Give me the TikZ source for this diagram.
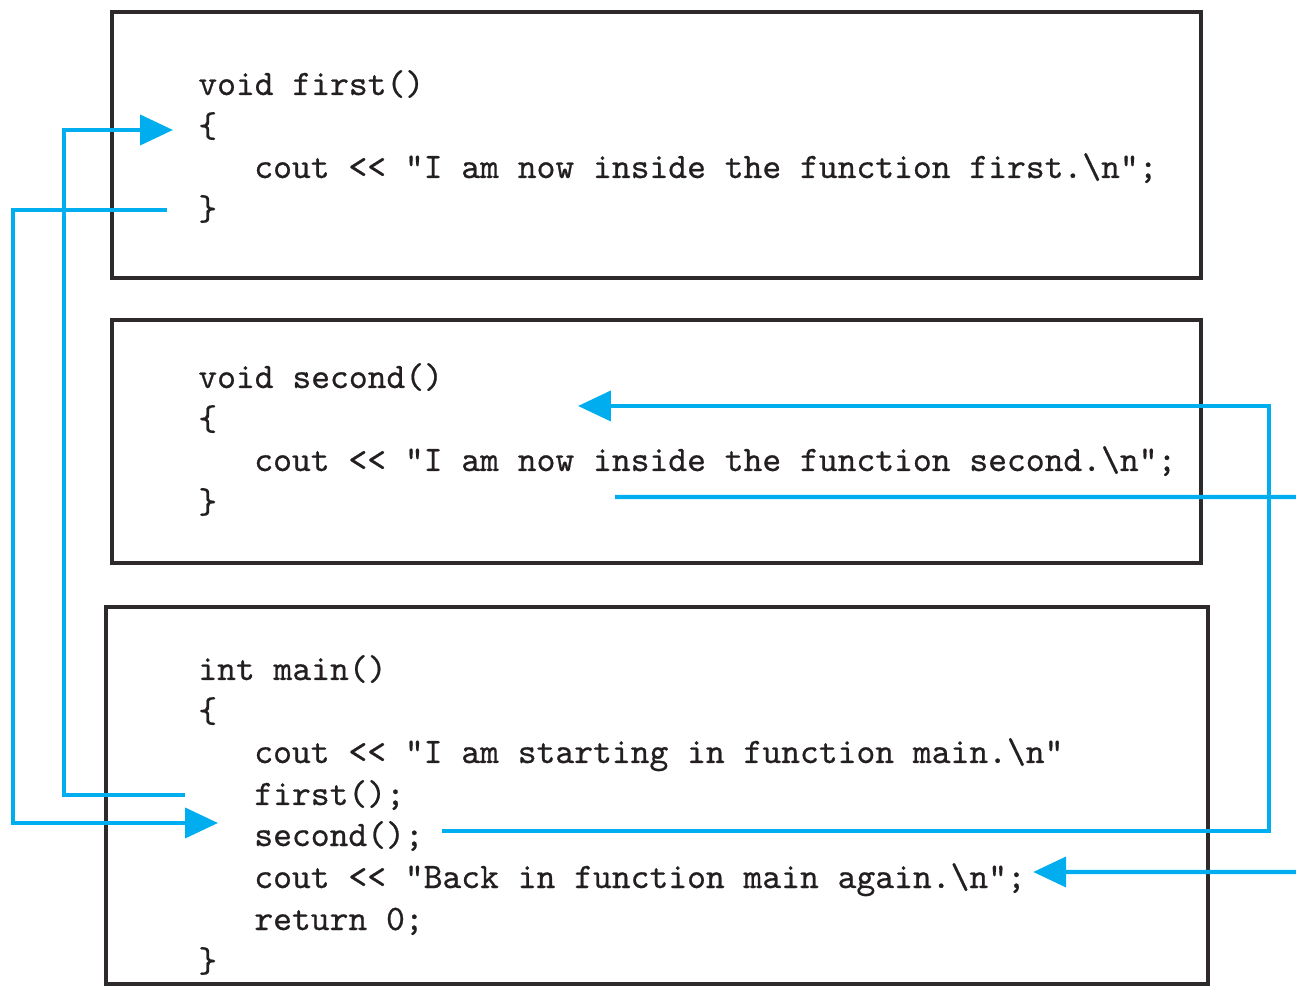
\documentclass[tikz,border=0pt]{standalone}
\usepackage{fontspec}
\newfontfamily\codefont{lmmono10-regular}[Extension=.otf,FakeBold=0.6]
\usetikzlibrary{calc,arrows.meta}
\definecolor{callblue}{RGB}{0,174,239}
\definecolor{ink}{RGB}{35,31,32}

\begin{document}
\begin{tikzpicture}[x=0.02cm,y=-0.02cm]

\tikzset{codeline/.style={anchor=base west,inner sep=0pt,text=ink,font=\fontsize{20.4pt}{24pt}\selectfont\codefont,text height=14pt,text depth=2.6pt},
codebox/.style={draw=ink!95,line width=2.2pt},
flowline/.style={draw=callblue,line width=2.3pt},
flow/.style={flowline,-{Triangle[length=0.66cm,width=0.6cm]}}}

\useasboundingbox (0,0) rectangle (1296,986);

% Function boxes
\draw[codebox] (112,12) rectangle (1201,278);
\draw[codebox] (112,320) rectangle (1201,563);
\draw[codebox] (106,607) rectangle (1208,984);

% first()
\node[codeline] (first1) at (198,95) {void first()};
\node[codeline] (first2) at (198,137) {\{};
\node[codeline] (first3) at (254,178) {cout << "I am now inside the function first.\textbackslash n";};
\node[codeline] (first4) at (198,220) {\}};

% second()
\node[codeline] (sec1) at (198,388) {void second()};
\node[codeline] (sec2) at (198,430) {\{};
\node[codeline] (sec3) at (254,471) {cout << "I am now inside the function second.\textbackslash n";};
\node[codeline] (sec4) at (198,513) {\}};

% main()
\node[codeline] (main1) at (198,680) {int main()};
\node[codeline] (main2) at (198,722) {\{};
\node[codeline] (main3) at (254,763) {cout << "I am starting in function main.\textbackslash n"};
\node[codeline] (main4) at (254,805) {first();};
\node[codeline] (main5) at (254,846) {second();};
\node[codeline] (main6) at (254,888) {cout << "Back in function main again.\textbackslash n";};
\node[codeline] (main7) at (254,930) {return 0;};
\node[codeline] (main8) at (198,972) {\}};

% Calls and returns
\coordinate (out2) at (1296,497);
\coordinate (in2) at (1296,872);
\draw[flow] ($(main4.west)+(-69,0)$) -- ($(main4.west)+(-190,0)$) |- ($(first2.west)+(-25,3)$); % call first
\draw[flow] ($(first4.west)+(-31,0)$) -- ($(first4.west)+(-185,0)$) |- ($(main5.west)+(-36,-13)$); % back from first
\draw[flow] ($(main5.east)+(18,-5)$) -- ++(827,0) |- ($(sec3.west)+(324,-55)$); % call second
\draw[flowline] ($(sec3.west)+(361,36)$) -- (out2); \draw[flow] (in2) -- ($(main6.east)+(7,-6)$); % back from second

\end{tikzpicture}
\end{document}
